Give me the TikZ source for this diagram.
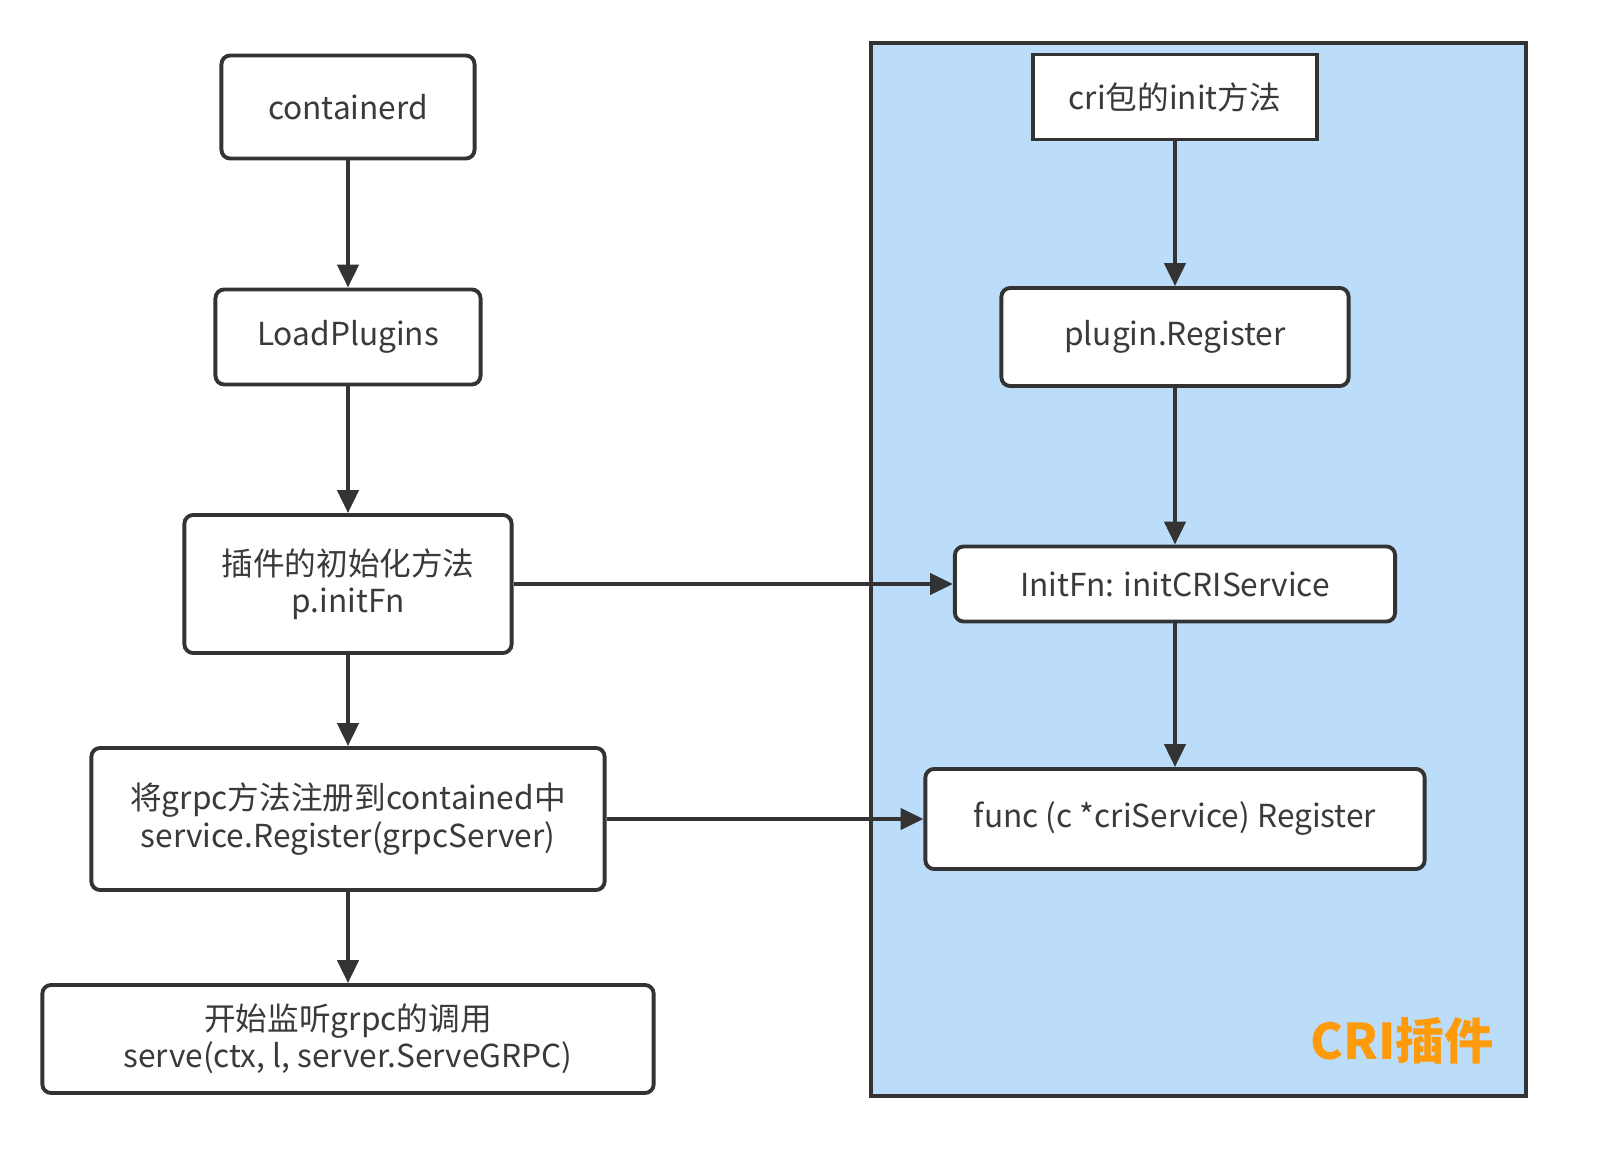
\documentclass[tikz,border=0pt]{standalone}
\usepackage{fontspec}
\setmainfont{Noto Sans CJK SC}
\usetikzlibrary{arrows.meta}
\definecolor{crifill}{HTML}{BBDDFA}
\definecolor{criorange}{HTML}{FF9A0A}
\definecolor{txtgray}{HTML}{3A3A3A}
\tikzset{
  box/.style={draw=black!80,line width=1.1pt,rounded corners=2.5pt,fill=white,
    text=txtgray,align=center,inner sep=0pt,font=\fontsize{9pt}{10.6pt}\selectfont},
  sqbox/.style={box,sharp corners},
  link/.style={draw=black!80,line width=1.1pt,-{Triangle[length=6.5pt,width=6pt]}}
}
\begin{document}
\begin{tikzpicture}[x=0.01cm,y=-0.01cm]
\useasboundingbox (0,0) rectangle (1623,1155);

% CRI plugin area
\draw[fill=crifill,draw=black!80,line width=1.1pt](871,43)rectangle(1526,1096);
\node[text=criorange,font=\fontsize{14pt}{16pt}\selectfont\bfseries] (crilabel) at (1402,1041) {CRI插件};

% left column
\node[box,minimum width=2.53cm,minimum height=1.03cm] (containerd) at (348,107) {containerd};
\node[box,minimum width=2.65cm,minimum height=0.95cm] (loadplugins) at (348,337) {LoadPlugins};
\node[box,minimum width=3.27cm,minimum height=1.38cm] (initfn) at (348,584) {插件的初始化方法\\p.initFn};
\node[box,minimum width=5.13cm,minimum height=1.42cm] (grpcreg) at (348,819) {将grpc方法注册到contained中\\service.Register(grpcServer)};
\node[box,minimum width=6.11cm,minimum height=1.08cm] (serve) at (348,1039) {开始监听grpc的调用\\serve(ctx, l, server.ServeGRPC)};

% right column
\node[sqbox,minimum width=2.83cm,minimum height=0.85cm] (criinit) at (1175,97) {cri包的init方法};
\node[box,minimum width=3.47cm,minimum height=0.98cm] (plugreg) at (1175,337) {plugin.Register};
\node[box,minimum width=4.40cm,minimum height=0.75cm] (initcri) at (1175,584) {InitFn: initCRIService};
\node[box,minimum width=4.99cm,minimum height=1.00cm] (crireg) at (1175,819) {func (c *criService) Register};

\draw[link](containerd)--(loadplugins);
\draw[link](loadplugins)--(initfn);
\draw[link](initfn)--(grpcreg);
\draw[link](grpcreg)--(serve);

\draw[link](criinit)--(plugreg);
\draw[link](plugreg)--(initcri);
\draw[link](initcri)--(crireg);

\draw[link](initfn)--(initcri);
\draw[link](grpcreg)--(crireg);
\end{tikzpicture}
\end{document}
